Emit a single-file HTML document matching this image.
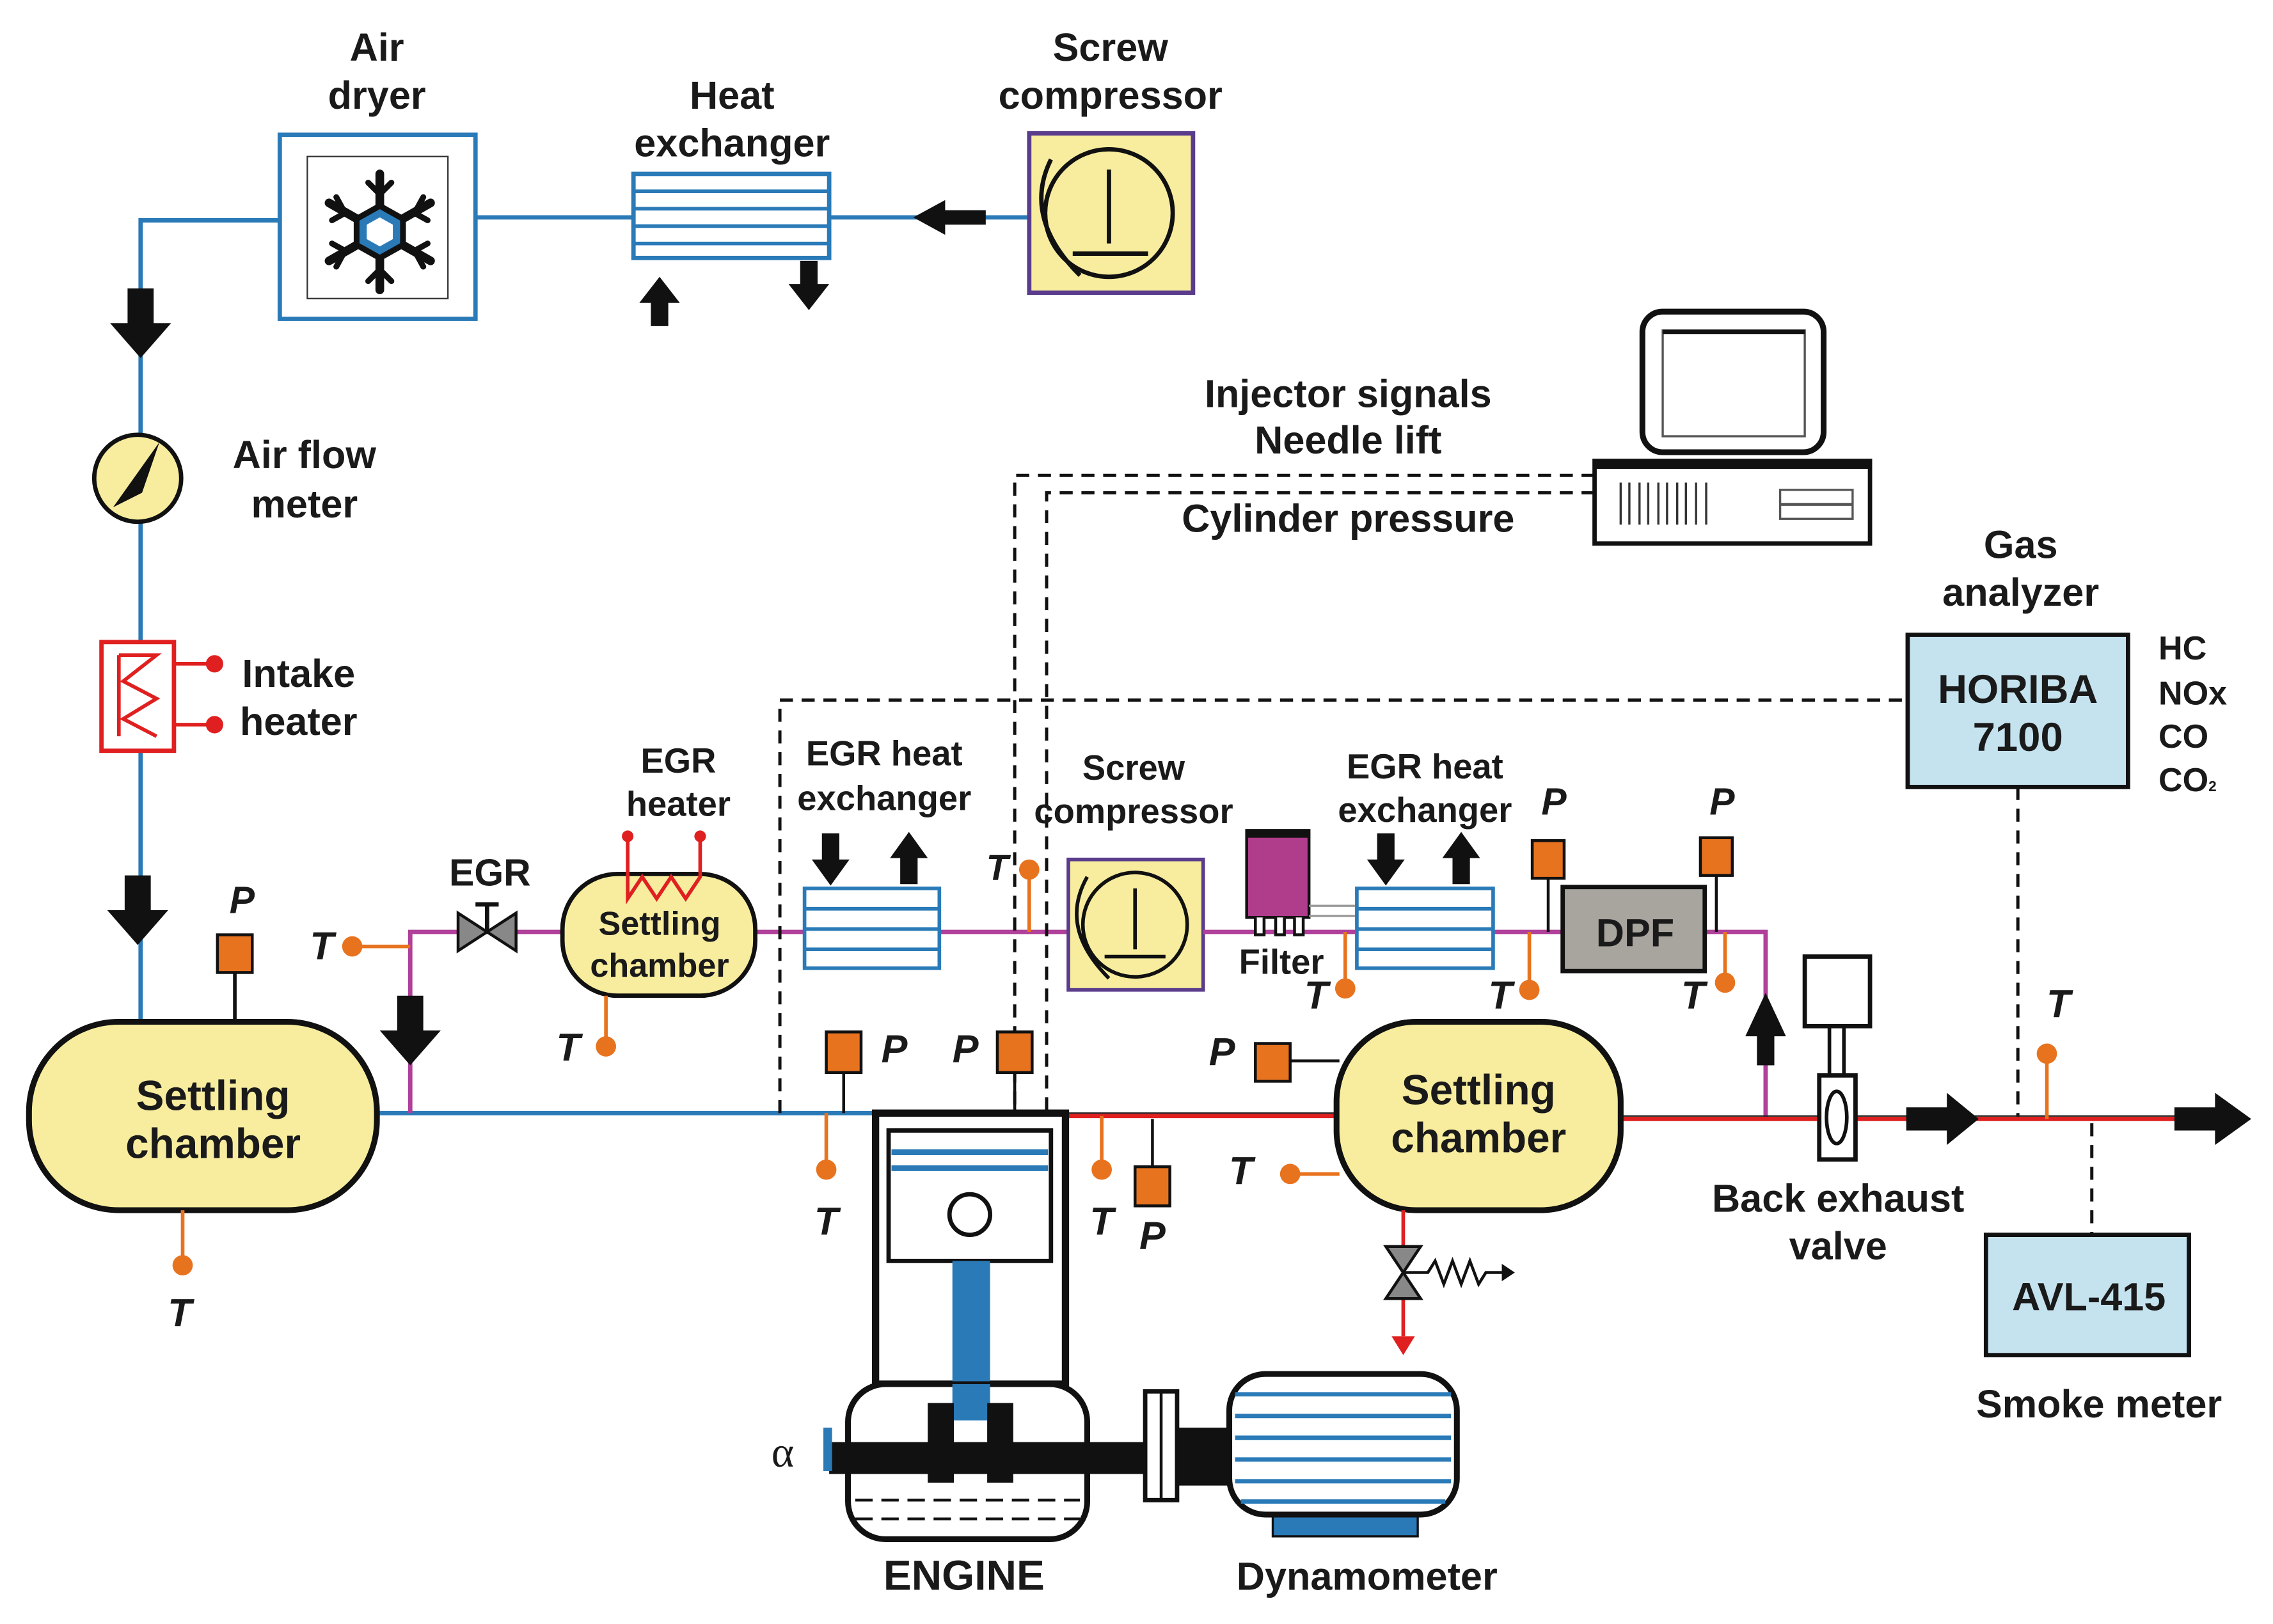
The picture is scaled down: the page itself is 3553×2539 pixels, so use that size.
<!DOCTYPE html>
<html><head><meta charset="utf-8"><style>
html,body{margin:0;padding:0;background:#fff;width:3553px;height:2539px;overflow:hidden}
svg{display:block}
text{font-family:"Liberation Sans",sans-serif;font-weight:bold;fill:#1a1a1a;text-anchor:middle}
.it{font-style:italic}
</style></head><body>
<svg width="3553" height="2539" viewBox="0 0 1568 1120.5" preserveAspectRatio="none" xmlns="http://www.w3.org/2000/svg">
<defs>
<g id="ad"><path d="M-6,-14 h12 v16 h8 l-14,16 l-14,-16 h8z" fill="#111"/></g>
</defs>
<g stroke="#2a7ab8" stroke-width="3" fill="none">
<path d="M710,150 H328 M193,152 H97 V705"/>
<path d="M260,768 H605"/>
</g>
<path d="M630,150 l22,-12 v7 h28 v10 h-28 v7z" fill="#111"/>
<g transform="translate(97,220) scale(1.5)"><use href="#ad"/></g>
<g transform="translate(95,625) scale(1.5)"><use href="#ad"/></g>
<rect x="193" y="93" width="135" height="127" fill="#fff" stroke="#2a7ab8" stroke-width="3"/>
<rect x="212" y="108" width="97" height="98" fill="#fff" stroke="#333" stroke-width="1"/>
<g stroke="#111" stroke-width="6" stroke-linecap="round" fill="none" transform="translate(262,160)">
<path d="M0,-40 V40 M-35,-20 L35,20 M-35,20 L35,-20"/>
<path d="M-8,-34 L0,-26 L8,-34 M-8,34 L0,26 L8,34" stroke-width="4"/>
<path d="M-33,-8 L-24,-13 L-30,-24 M33,8 L24,13 L30,24 M-33,8 L-24,13 L-30,24 M33,-8 L24,-13 L30,-24" stroke-width="4"/>
</g>
<polygon points="262,142 278,151 278,169 262,178 246,169 246,151" fill="#2a7ab8" stroke="#111" stroke-width="4"/>
<polygon points="262,150 271,155 271,165 262,170 253,165 253,155" fill="#fff"/>
<text x="260" y="42" font-size="27">Air</text><text x="260" y="75" font-size="27">dryer</text>
<rect x="437" y="120" width="135" height="58" fill="#fff" stroke="#2a7ab8" stroke-width="3"/>
<g stroke="#2a7ab8" stroke-width="2.5"><path d="M437,132 H572 M437,144 H572 M437,156 H572 M437,168 H572"/></g>
<path d="M449,225 v-16 h-8 l14,-18 l14,18 h-8 v16z" fill="#111"/>
<path d="M552,180 v16 h-8 l14,18 l14,-18 h-8 v-16z" fill="#111"/>
<text x="505" y="75" font-size="27">Heat</text><text x="505" y="108" font-size="27">exchanger</text>
<rect x="710" y="92" width="113" height="110" fill="#f8ed9e" stroke="#5a3c8c" stroke-width="3"/>
<circle cx="765" cy="147" r="44" fill="#f8ed9e" stroke="#111" stroke-width="3"/>
<path d="M765,117 V168 M740,175 H792 M725,110 Q705,150 745,190" stroke="#111" stroke-width="3" fill="none"/>
<text x="766" y="42" font-size="27">Screw</text><text x="766" y="75" font-size="27">compressor</text>
<circle cx="95" cy="330" r="30" fill="#f8ed9e" stroke="#111" stroke-width="3"/>
<path d="M110,305 L78,350 L98,340z" fill="#111"/>
<text x="210" y="323" font-size="27">Air flow</text><text x="210" y="357" font-size="27">meter</text>
<rect x="70" y="443" width="50" height="75" fill="#fff" stroke="#e02020" stroke-width="3"/>
<path d="M120,458 H148 M120,500 H148 M82,452 V508 M82,452 H108 L85,470 L108,482 L85,496 L108,508" stroke="#e02020" stroke-width="2.5" fill="none"/>
<circle cx="148" cy="458" r="6" fill="#e02020"/><circle cx="148" cy="500" r="6" fill="#e02020"/>
<text x="206" y="474" font-size="27">Intake</text><text x="206" y="507" font-size="27">heater</text>
<path d="M162,705 V670" stroke="#111" stroke-width="2.5"/>
<rect x="150" y="645" width="24" height="26" fill="#e8731f" stroke="#111" stroke-width="2"/>
<text x="167" y="630" font-size="26" class="it">P</text>
<rect x="20" y="705" width="240" height="130" rx="62" fill="#f8ed9e" stroke="#111" stroke-width="4"/>
<text x="147" y="766" font-size="29">Settling</text><text x="147" y="799" font-size="29">chamber</text>
<path d="M126,835 V870" stroke="#e8731f" stroke-width="2.5"/><circle cx="126" cy="873" r="7" fill="#e8731f"/>
<text x="124" y="915" font-size="27" class="it">T</text>
<path d="M283,768 V643 H737" stroke="#b0409a" stroke-width="3" fill="none"/>
<g transform="translate(283,708) scale(1.5)"><use href="#ad"/></g>
<path d="M243,653 H283" stroke="#e8731f" stroke-width="2.5"/><circle cx="243" cy="653" r="7" fill="#e8731f"/>
<text x="222" y="662" font-size="27" class="it">T</text>
<path d="M316,630 L336,643 L316,656z M356,630 L336,643 L356,656z" fill="#888" stroke="#111" stroke-width="2"/>
<path d="M336,643 V624 M328,624 H344" stroke="#111" stroke-width="3"/>
<text x="338" y="611" font-size="26">EGR</text>
<rect x="388" y="603" width="133" height="84" rx="38" fill="#f8ed9e" stroke="#111" stroke-width="3"/>
<path d="M433,577 V620 L443,605 L453,620 L463,605 L473,620 L483,605 V577" stroke="#e02020" stroke-width="2.5" fill="none"/>
<circle cx="433" cy="577" r="4" fill="#e02020"/><circle cx="483" cy="577" r="4" fill="#e02020"/>
<text x="455" y="645" font-size="23">Settling</text><text x="455" y="674" font-size="23">chamber</text>
<text x="468" y="533" font-size="24">EGR</text><text x="468" y="563" font-size="24">heater</text>
<path d="M418,687 V720" stroke="#e8731f" stroke-width="2.5"/><circle cx="418" cy="722" r="7" fill="#e8731f"/>
<text x="392" y="732" font-size="27" class="it">T</text>
<rect x="555" y="613" width="93" height="55" fill="#fff" stroke="#2a7ab8" stroke-width="2.5"/>
<g stroke="#2a7ab8" stroke-width="2.5"><path d="M555,627 H648 M555,641 H648 M555,655 H648"/></g>
<path d="M567,575 v18 h-7 l13,18 l13,-18 h-7 v-18z" fill="#111"/>
<path d="M621,610 v-18 h-7 l13,-18 l13,18 h-7 v18z" fill="#111"/>
<text x="610" y="528" font-size="24">EGR heat</text><text x="610" y="559" font-size="24">exchanger</text>
<path d="M710,600 V643" stroke="#e8731f" stroke-width="2.5"/><circle cx="710" cy="600" r="7" fill="#e8731f"/>
<text x="688" y="607" font-size="25" class="it">T</text>
<g stroke="#111" stroke-width="2.2" stroke-dasharray="9,6" fill="none">
<path d="M1100,328 H700 V768"/><path d="M1100,340 H722 V768"/>
<path d="M538,768 V483 H1316"/>
<path d="M1392,543 V772"/><path d="M1443,775 V852"/>
</g>
<rect x="737" y="593" width="93" height="90" fill="#f8ed9e" stroke="#5a3c8c" stroke-width="2.5"/>
<circle cx="783" cy="638" r="36" fill="#f8ed9e" stroke="#111" stroke-width="2.5"/>
<path d="M783,613 V655 M762,660 H804 M750,605 Q730,640 765,675" stroke="#111" stroke-width="2.5" fill="none"/>
<text x="782" y="538" font-size="24">Screw</text><text x="782" y="568" font-size="24">compressor</text>
<path d="M830,643 H1218 V772" stroke="#b0409a" stroke-width="3" fill="none"/>
<rect x="860" y="573" width="43" height="60" fill="#b03c8c" stroke="#111" stroke-width="2"/>
<rect x="860" y="573" width="43" height="5" fill="#111"/>
<path d="M866,633 V645 H872 V633 M880,633 V645 H886 V633 M893,633 V645 H899 V633" stroke="#111" stroke-width="2" fill="#fff"/>
<path d="M903,625 H936 M903,632 H936" stroke="#999" stroke-width="1.5"/>
<text x="884" y="672" font-size="24">Filter</text>
<path d="M928,643 V680" stroke="#e8731f" stroke-width="2.5"/><circle cx="928" cy="682" r="7" fill="#e8731f"/>
<text x="908" y="696" font-size="27" class="it">T</text>
<rect x="936" y="613" width="94" height="55" fill="#fff" stroke="#2a7ab8" stroke-width="2.5"/>
<g stroke="#2a7ab8" stroke-width="2.5"><path d="M936,627 H1030 M936,641 H1030 M936,655 H1030"/></g>
<path d="M950,575 v18 h-7 l13,18 l13,-18 h-7 v-18z" fill="#111"/>
<path d="M1002,610 v-18 h-7 l13,-18 l13,18 h-7 v18z" fill="#111"/>
<text x="983" y="537" font-size="24">EGR heat</text><text x="983" y="567" font-size="24">exchanger</text>
<path d="M1055,643 V680" stroke="#e8731f" stroke-width="2.5"/><circle cx="1055" cy="683" r="7" fill="#e8731f"/>
<text x="1035" y="696" font-size="27" class="it">T</text>
<path d="M1068,605 V643" stroke="#111" stroke-width="2"/>
<rect x="1057" y="580" width="22" height="26" fill="#e8731f" stroke="#111" stroke-width="2"/>
<text x="1072" y="562" font-size="26" class="it">P</text>
<rect x="1078" y="612" width="98" height="58" fill="#a8a49e" stroke="#111" stroke-width="3"/>
<text x="1128" y="653" font-size="27" fill="#222">DPF</text>
<path d="M1184,603 V643" stroke="#111" stroke-width="2"/>
<rect x="1173" y="578" width="22" height="26" fill="#e8731f" stroke="#111" stroke-width="2"/>
<text x="1188" y="562" font-size="26" class="it">P</text>
<path d="M1190,643 V676" stroke="#e8731f" stroke-width="2.5"/><circle cx="1190" cy="678" r="7" fill="#e8731f"/>
<text x="1168" y="696" font-size="27" class="it">T</text>
<path d="M1212,735 v-20 h-8 l14,-30 l14,30 h-8 v20z" fill="#111"/>
<path d="M735,770 H922 M1118,772 H1510" stroke="#e02020" stroke-width="3"/>
<path d="M735,768 H922 M1118,770 H1510" stroke="#222" stroke-width="1"/>
<path d="M1315,764 h28 v-10 l22,18 l-22,18 v-10 h-28z" fill="#111"/>
<path d="M1500,764 h28 v-10 l25,18 l-25,18 v-10 h-28z" fill="#111"/>
<path d="M1412,727 V772" stroke="#e8731f" stroke-width="2.5"/><circle cx="1412" cy="727" r="7" fill="#e8731f"/>
<text x="1420" y="702" font-size="27" class="it">T</text>
<rect x="1245" y="660" width="45" height="48" fill="#fff" stroke="#111" stroke-width="3"/>
<path d="M1262,708 V742 M1272,708 V742" stroke="#111" stroke-width="2.5"/>
<rect x="1255" y="742" width="25" height="58" fill="#fff" stroke="#111" stroke-width="3"/>
<ellipse cx="1267" cy="771" rx="7" ry="18" fill="#fff" stroke="#111" stroke-width="2.5"/>
<text x="1268" y="836" font-size="27">Back exhaust</text><text x="1268" y="869" font-size="27">valve</text>
<rect x="1316" y="438" width="152" height="105" fill="#c5e3ef" stroke="#111" stroke-width="3"/>
<text x="1392" y="485" font-size="28">HORIBA</text><text x="1392" y="518" font-size="28">7100</text>
<text x="1394" y="385" font-size="27">Gas</text><text x="1394" y="418" font-size="27">analyzer</text>
<g font-size="23"><text x="1489" y="455" style="text-anchor:start">HC</text><text x="1489" y="486" style="text-anchor:start">NOx</text><text x="1489" y="516" style="text-anchor:start">CO</text><text x="1489" y="546" style="text-anchor:start">CO<tspan font-size="10">2</tspan></text></g>
<rect x="1370" y="852" width="140" height="83" fill="#c5e3ef" stroke="#111" stroke-width="3"/>
<text x="1441" y="904" font-size="27">AVL-415</text>
<text x="1448" y="978" font-size="27">Smoke meter</text>
<rect x="1133" y="215" width="125" height="97" rx="14" fill="#fff" stroke="#111" stroke-width="4"/>
<rect x="1147" y="228" width="98" height="73" fill="#fff" stroke="#555" stroke-width="1.5"/>
<path d="M1147,229 H1245" stroke="#111" stroke-width="3"/>
<rect x="1100" y="318" width="190" height="57" fill="#fff" stroke="#111" stroke-width="3"/>
<path d="M1100,321 H1290" stroke="#111" stroke-width="5"/>
<path d="M1118,333 V362 M1124,333 V362 M1131,333 V362 M1137,333 V362 M1144,333 V362 M1150,333 V362 M1157,333 V362 M1163,333 V362 M1170,333 V362 M1177,333 V362" stroke="#333" stroke-width="1.5"/>
<rect x="1228" y="338" width="50" height="20" fill="#fff" stroke="#555" stroke-width="1.5"/><path d="M1228,348 H1278" stroke="#555" stroke-width="2"/>
<text x="930" y="281" font-size="27">Injector signals</text><text x="930" y="313" font-size="27">Needle lift</text>
<text x="930" y="367" font-size="27">Cylinder pressure</text>
<path d="M582,740 V768" stroke="#111" stroke-width="2"/>
<rect x="570" y="712" width="24" height="28" fill="#e8731f" stroke="#111" stroke-width="2"/>
<text x="617" y="733" font-size="27" class="it">P</text>
<path d="M570,768 V805" stroke="#e8731f" stroke-width="2.5"/><circle cx="570" cy="807" r="7" fill="#e8731f"/>
<text x="570" y="852" font-size="27" class="it">T</text>
<path d="M700,740 V768" stroke="#111" stroke-width="2"/>
<rect x="688" y="712" width="24" height="28" fill="#e8731f" stroke="#111" stroke-width="2"/>
<text x="666" y="733" font-size="27" class="it">P</text>
<path d="M760,770 V805" stroke="#e8731f" stroke-width="2.5"/><circle cx="760" cy="807" r="7" fill="#e8731f"/>
<text x="760" y="852" font-size="27" class="it">T</text>
<path d="M795,772 V805" stroke="#111" stroke-width="2"/>
<rect x="783" y="805" width="24" height="27" fill="#e8731f" stroke="#111" stroke-width="2"/>
<text x="795" y="862" font-size="27" class="it">P</text>
<rect x="604" y="768" width="131" height="187" fill="#fff" stroke="#111" stroke-width="5"/>
<rect x="613" y="780" width="112" height="90" fill="#fff" stroke="#111" stroke-width="3"/>
<path d="M615,795 H723 M615,806 H723" stroke="#2a7ab8" stroke-width="4"/>
<circle cx="669" cy="838" r="14" fill="#fff" stroke="#111" stroke-width="3"/>
<rect x="657" y="870" width="26" height="120" fill="#2a7ab8"/>
<rect x="585" y="955" width="165" height="107" rx="26" fill="#fff" stroke="#111" stroke-width="4"/>
<rect x="657" y="955" width="26" height="25" fill="#2a7ab8"/>
<path d="M590,1035 H745 M590,1048 H745" stroke="#111" stroke-width="2" stroke-dasharray="12,6"/>
<rect x="572" y="995" width="280" height="22" fill="#111"/>
<rect x="640" y="968" width="18" height="55" fill="#111"/><rect x="681" y="968" width="18" height="55" fill="#111"/>
<rect x="568" y="985" width="6" height="30" fill="#2a7ab8"/>
<text x="540" y="1012" font-size="30" style="font-family:'Liberation Serif',serif;font-weight:normal">α</text>
<text x="665" y="1097" font-size="29">ENGINE</text>
<rect x="790" y="960" width="22" height="75" fill="#fff" stroke="#111" stroke-width="3"/>
<path d="M801,960 V1035" stroke="#111" stroke-width="2"/>
<rect x="812" y="985" width="40" height="40" fill="#111"/>
<rect x="878" y="1040" width="100" height="20" fill="#2a7ab8" stroke="#111" stroke-width="1.5"/>
<rect x="848" y="948" width="157" height="97" rx="25" fill="#fff" stroke="#111" stroke-width="4"/>
<g stroke="#2a7ab8" stroke-width="3"><path d="M852,962 H1001 M852,977 H1001 M852,992 H1001 M852,1007 H1001 M852,1022 H1001 M856,1036 H997"/></g>
<text x="943" y="1097" font-size="27">Dynamometer</text>
<path d="M890,732 H924" stroke="#111" stroke-width="2"/>
<path d="M890,810 H924" stroke="#e8731f" stroke-width="2.5"/><circle cx="890" cy="810" r="7" fill="#e8731f"/>
<text x="856" y="817" font-size="27" class="it">T</text>
<rect x="866" y="720" width="24" height="26" fill="#e8731f" stroke="#111" stroke-width="2"/>
<text x="843" y="735" font-size="27" class="it">P</text>
<rect x="922" y="705" width="196" height="130" rx="55" fill="#f8ed9e" stroke="#111" stroke-width="4"/>
<text x="1020" y="762" font-size="29">Settling</text><text x="1020" y="795" font-size="29">chamber</text>
<path d="M968,835 V922" stroke="#e02020" stroke-width="2.5"/>
<path d="M960,922 L968,935 L976,922z" fill="#e02020"/>
<path d="M956,860 L980,860 L968,878z M956,896 L980,896 L968,878z" fill="#888" stroke="#111" stroke-width="2"/>
<path d="M968,878 L985,878 L990,870 L996,886 L1002,870 L1008,886 L1014,870 L1020,886 L1025,878 H1038" stroke="#111" stroke-width="2" fill="none"/>
<path d="M1036,872 L1045,878 L1036,884z" fill="#111"/>
</svg>
</body></html>
